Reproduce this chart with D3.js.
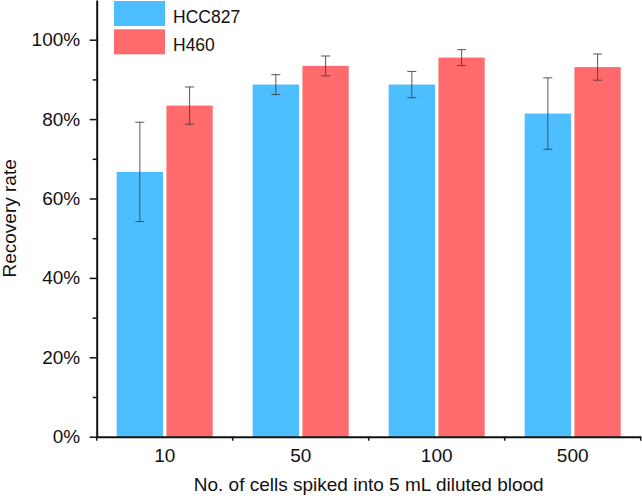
<!DOCTYPE html>
<html>
<head>
<meta charset="utf-8">
<script src="https://cdn.jsdelivr.net/npm/d3@7"></script>
<style>
  html, body { margin: 0; padding: 0; background: #fff; }
  svg { display: block; font-family: "Liberation Sans", Arial, Helvetica, sans-serif; }
</style>
</head>
<body>
<svg id="chart" width="642" height="496"></svg>
<script>
// ---- data ----
const categories = ["10", "50", "100", "500"];
const seriesNames = ["HCC827", "H460"];
const hcc827Means = [0.667, 0.887, 0.887, 0.814];
const hcc827Errors = [0.125, 0.025, 0.033, 0.090];
const h460Means = [0.834, 0.934, 0.955, 0.931];
const h460Errors = [0.047, 0.025, 0.020, 0.033];
const yTickValues = [0, 0.2, 0.4, 0.6, 0.8, 1.0];
const yMinorTickValues = [0.1, 0.3, 0.5, 0.7, 0.9];
const xTitle = "No. of cells spiked into 5 mL diluted blood";
const yTitle = "Recovery rate";

const colors = { "HCC827": "#4DBEFF", "H460": "#FF6B6C" };

const seriesData = [
  { name: "HCC827", means: hcc827Means, errors: hcc827Errors },
  { name: "H460", means: h460Means, errors: h460Errors }
];

// ---- layout ----
const svg = d3.select("#chart");
const mLeft = 96.7, mRight = 640.7, mTop = 0, mBottom = 436.7;
const fontFamily = "\"Liberation Sans\", Arial, sans-serif";

const y = d3.scaleLinear().domain([0, 1.1]).range([mBottom, mTop]);
const pIn = 0.294;
const x0 = d3.scaleBand().domain(categories).range([mLeft, mRight])
  .paddingInner(pIn).paddingOuter(pIn / 2);
const x1 = d3.scaleBand().domain(seriesNames).range([0, x0.bandwidth()])
  .paddingInner(0.07);

// ---- bars ----
const groups = svg.append("g").selectAll("g")
  .data(categories)
  .join("g")
  .attr("transform", d => `translate(${x0(d)},0)`);

groups.selectAll("rect")
  .data((c, i) => seriesData.map(s => ({ name: s.name, v: s.means[i], e: s.errors[i] })))
  .join("rect")
  .attr("x", d => x1(d.name))
  .attr("width", x1.bandwidth())
  .attr("y", d => y(d.v))
  .attr("height", d => y(0) - y(d.v))
  .attr("fill", d => colors[d.name]);

// ---- error bars ----
const eb = groups.selectAll("g.err")
  .data((c, i) => seriesData.map(s => ({ name: s.name, v: s.means[i], e: s.errors[i] })))
  .join("g")
  .attr("class", "err")
  .attr("stroke", "#404040")
  .attr("stroke-opacity", 0.8)
  .attr("stroke-width", 1.1);
const cx = d => x1(d.name) + x1.bandwidth() / 2;
eb.append("line")
  .attr("x1", cx).attr("x2", cx)
  .attr("y1", d => y(d.v + d.e)).attr("y2", d => y(d.v - d.e));
eb.append("line")
  .attr("x1", d => cx(d) - 4.5).attr("x2", d => cx(d) + 4.5)
  .attr("y1", d => y(d.v + d.e)).attr("y2", d => y(d.v + d.e));
eb.append("line")
  .attr("x1", d => cx(d) - 4.5).attr("x2", d => cx(d) + 4.5)
  .attr("y1", d => y(d.v - d.e)).attr("y2", d => y(d.v - d.e));

// ---- y axis ----
const yAxis = svg.append("g")
  .attr("transform", `translate(${mLeft},0)`)
  .call(d3.axisLeft(y).tickValues(yTickValues).tickSize(7).tickPadding(9.5)
    .tickFormat(d3.format(".0%")).tickSizeOuter(0));
yAxis.select(".domain").attr("stroke", "#111").attr("stroke-width", 2);
yAxis.selectAll(".tick line").attr("stroke", "#111").attr("stroke-width", 1.5);
yAxis.selectAll(".tick text").attr("font-size", "19px").attr("fill", "#111")
  .attr("font-family", fontFamily);

const yMinor = svg.append("g")
  .attr("transform", `translate(${mLeft},0)`)
  .call(d3.axisLeft(y).tickValues(yMinorTickValues).tickSize(4).tickFormat(""));
yMinor.select(".domain").remove();
yMinor.selectAll(".tick line").attr("stroke", "#111").attr("stroke-width", 1.5);

// ---- x axis ----
const xAxis = svg.append("g")
  .attr("transform", `translate(0,${mBottom})`)
  .call(d3.axisBottom(x0).tickSize(0).tickPadding(12.3).tickSizeOuter(0));
xAxis.select(".domain").attr("stroke", "#111").attr("stroke-width", 2);
xAxis.selectAll(".tick text").attr("font-size", "19px").attr("fill", "#111")
  .attr("font-family", fontFamily);

// boundary ticks between categories
const boundaries = d3.range(categories.length + 1).map(i => x0.range()[0] + i * x0.step());
svg.append("g").selectAll("line")
  .data(boundaries)
  .join("line")
  .attr("x1", d => d).attr("x2", d => d)
  .attr("y1", mBottom).attr("y2", mBottom + 4)
  .attr("stroke", "#111").attr("stroke-width", 1.5);

// ---- axis titles ----
svg.append("text")
  .attr("x", (mLeft + mRight) / 2)
  .attr("y", 491)
  .attr("text-anchor", "middle")
  .attr("font-size", "19px")
  .attr("fill", "#111")
  .text(xTitle);

svg.append("text")
  .attr("transform", `translate(16,${(mTop + mBottom) / 2}) rotate(-90)`)
  .attr("text-anchor", "middle")
  .attr("font-size", "19px")
  .attr("fill", "#111")
  .text(yTitle);

// ---- legend ----
const legend = svg.append("g").selectAll("g")
  .data(seriesNames)
  .join("g")
  .attr("transform", (d, i) => `translate(114,${1 + i * 28.3})`);
legend.append("rect")
  .attr("width", 51).attr("height", 25)
  .attr("fill", d => colors[d]);
legend.append("text")
  .attr("x", 59).attr("y", 21.5)
  .attr("font-size", "17.5px")
  .attr("fill", "#111")
  .text(d => d);
</script>
</body>
</html>
